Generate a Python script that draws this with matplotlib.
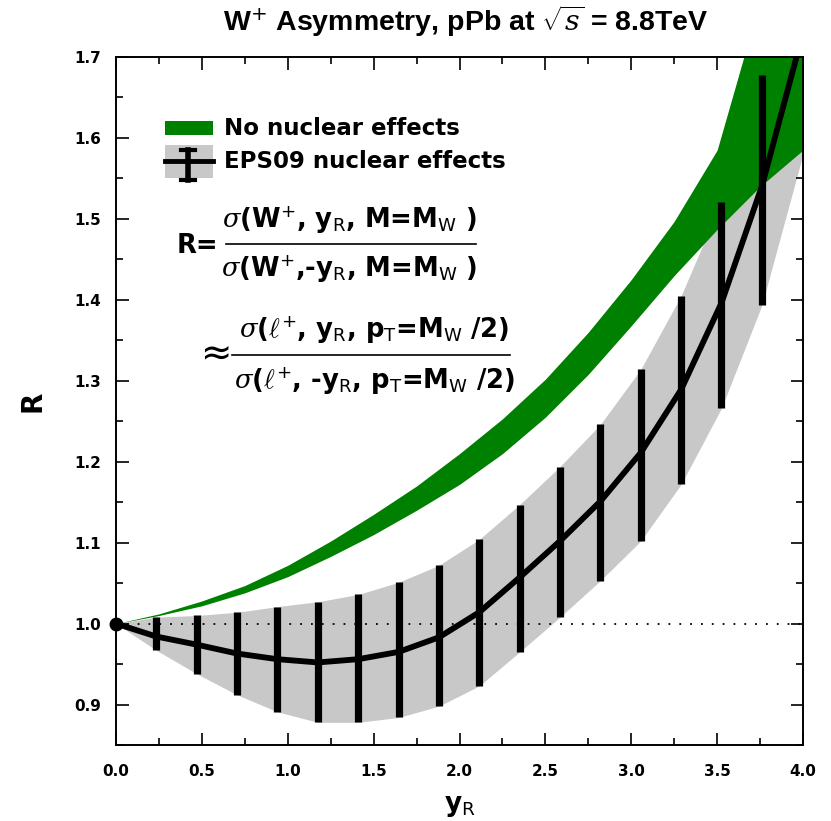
import matplotlib
matplotlib.use("Agg")
import matplotlib.pyplot as plt
from matplotlib.patches import Rectangle
from matplotlib.lines import Line2D
import numpy as np

plt.rcParams['font.family'] = ['DejaVu Sans']
plt.rcParams['mathtext.fontset'] = 'custom'
plt.rcParams['mathtext.rm'] = 'DejaVu Sans'
plt.rcParams['mathtext.bf'] = 'DejaVu Sans:bold'
plt.rcParams['mathtext.it'] = 'DejaVu Serif:italic'

# ---- data ----
bar_x = [0.235, 0.47, 0.705, 0.94, 1.175, 1.41, 1.645, 1.88, 2.115, 2.35,
         2.585, 2.82, 3.055, 3.29, 3.525, 3.76]
eps_center = [0.984, 0.974, 0.963, 0.956, 0.952, 0.956, 0.965, 0.983, 1.014, 1.057,
              1.102, 1.151, 1.211, 1.289, 1.396, 1.540]
eps_hi = [1.008, 1.010, 1.014, 1.021, 1.027, 1.036, 1.051, 1.072, 1.104, 1.147,
          1.194, 1.246, 1.314, 1.405, 1.521, 1.678]
eps_lo = [0.967, 0.938, 0.912, 0.891, 0.878, 0.878, 0.884, 0.898, 0.923, 0.965,
          1.008, 1.053, 1.102, 1.172, 1.266, 1.393]
curve_x = [0.0] + bar_x + [4.0]
curve_y = [1.0] + eps_center + [1.73]
band_hi = [1.0] + eps_hi + [1.86]
band_lo = [1.0] + eps_lo + [1.58]

green_x = [0.0, 0.25, 0.5, 0.75, 1.0, 1.25, 1.5, 1.75, 2.0, 2.25, 2.5, 2.75,
           3.0, 3.25, 3.5, 3.75, 4.0]
green_hi = [1.000, 1.012, 1.028, 1.047, 1.072, 1.102, 1.135, 1.170, 1.210, 1.253,
            1.302, 1.360, 1.425, 1.497, 1.585, 1.770, 1.98]
green_lo = [1.000, 1.010, 1.022, 1.038, 1.058, 1.083, 1.110, 1.140, 1.172, 1.210,
            1.255, 1.308, 1.368, 1.430, 1.487, 1.540, 1.585]

xticks = [0.0, 0.5, 1.0, 1.5, 2.0, 2.5, 3.0, 3.5, 4.0]
yticks = [0.9, 1.0, 1.1, 1.2, 1.3, 1.4, 1.5, 1.6, 1.7]

GREEN = '#008000'
GRAY = '#c8c8c8'

fig = plt.figure(figsize=(8.31, 8.21), dpi=100)
ax = fig.add_axes([116/831, 1-745/821, 687/831, 688/821])

ax.fill_between(curve_x, band_lo, band_hi, color=GRAY, lw=0, zorder=1)
ax.fill_between(green_x, green_lo, green_hi, color=GREEN, lw=0, zorder=2)
ax.plot([0, 4], [1.0, 1.0], color='k', lw=1.3, ls=(0, (1, 5)), zorder=3)
ax.plot(curve_x, curve_y, color='k', lw=4.2, zorder=4, solid_capstyle='round')
yc = np.array(eps_center)
ax.errorbar(bar_x, eps_center, yerr=[yc - np.array(eps_lo), np.array(eps_hi) - yc],
            fmt='none', ecolor='k', elinewidth=5.2, capsize=0, zorder=5)
ax.plot([0.0], [1.0], 'o', color='k', ms=9, clip_on=False, zorder=6)

ax.set_xlim(0, 4)
ax.set_ylim(0.85, 1.7)
ax.set_xticks(xticks)
ax.set_xticklabels([f'{v:.1f}' for v in xticks])
ax.set_yticks(yticks)
ax.set_yticklabels([f'{v:.1f}' for v in yticks])
ax.set_xticks(np.arange(0.25, 4.0, 0.5), minor=True)
ax.set_yticks(np.arange(0.85, 1.70, 0.1), minor=True)
ax.tick_params(which='both', direction='in', top=True, right=True, width=1.2)
ax.tick_params(which='major', length=9)
ax.tick_params(axis='x', which='major', pad=14)
ax.tick_params(axis='y', which='major', pad=11)
ax.tick_params(which='minor', length=5)
for lab in ax.get_xticklabels() + ax.get_yticklabels():
    lab.set_fontweight('bold')
    lab.set_fontsize(11)
for sp in ax.spines.values():
    sp.set_linewidth(1.4)

ax.set_ylabel('R', fontsize=20, fontweight='bold', labelpad=20)
ax.set_xlabel(r'y$_\mathrm{R}$', fontsize=19, fontweight='bold', labelpad=10)
fig.text(466/831, 1 - 21/821,
         r'W$^{+}$ Asymmetry, pPb at $\sqrt{s}$ = 8.8TeV',
         ha='center', va='center', fontsize=20.5, fontweight='bold',
         fontfamily='Liberation Sans')

# legend
T = ax.transAxes
def axc(px, py):
    return ((px - 116) / 687, (745 - py) / 688)

x0, y0 = axc(165, 135)
ax.add_patch(Rectangle((x0, y0), 48/687, 14/688, transform=T, color=GREEN, lw=0, zorder=7))
x0, y0 = axc(165, 178)
ax.add_patch(Rectangle((x0, y0), 48/687, 33/688, transform=T, color=GRAY, lw=0, zorder=7))
xa, ya = axc(165, 161)
xb_, _ = axc(213, 161)
ax.add_line(Line2D([xa, xb_], [ya, ya], transform=T, color='k', lw=3.5, zorder=8))
xm, yt = axc(188, 150)
_, yb = axc(188, 180)
ax.add_line(Line2D([xm, xm], [yb, yt], transform=T, color='k', lw=4, zorder=8))
cw = 7/687
ax.add_line(Line2D([xm-cw, xm+cw], [yt, yt], transform=T, color='k', lw=3, zorder=8))
ax.add_line(Line2D([xm-cw, xm+cw], [yb, yb], transform=T, color='k', lw=3, zorder=8))

lx, ly = axc(224, 128)
ax.text(lx, ly, 'No nuclear effects', transform=T, fontsize=16.5, fontweight='bold',
        va='center', ha='left', zorder=8)
lx, ly = axc(224, 161)
ax.text(lx, ly, 'EPS09 nuclear effects', transform=T, fontsize=16.5, fontweight='bold',
        va='center', ha='left', zorder=8)

# formula
fs = 18.6
px, py = axc(177, 246)
ax.text(px, py, 'R=', transform=T, fontsize=fs, fontweight='bold', ha='left', va='center')
px, py = axc(349, 220)
ax.text(px, py, r'$\sigma$(W$^{+}$, y$_\mathrm{R}$, M=M$_\mathrm{W}$ )', transform=T,
        fontsize=fs, fontweight='bold', ha='center', va='center')
xa, ya = axc(226, 244)
xb_, _ = axc(476, 244)
ax.add_line(Line2D([xa, xb_], [ya, ya], transform=T, color='k', lw=1.2))
px, py = axc(349, 269)
ax.text(px, py, r'$\sigma$(W$^{+}$,-y$_\mathrm{R}$, M=M$_\mathrm{W}$ )', transform=T,
        fontsize=fs, fontweight='bold', ha='center', va='center')

px, py = axc(211, 353)
ax.text(px, py, r'$\approx$', transform=T, fontsize=27, ha='center', va='center')
px, py = axc(374, 330)
ax.text(px, py, r'$\sigma$($\ell^{+}$, y$_\mathrm{R}$, p$_\mathrm{T}$=M$_\mathrm{W}$ /2)', transform=T,
        fontsize=fs, fontweight='bold', ha='center', va='center')
xa, ya = axc(232, 355)
xb_, _ = axc(510, 355)
ax.add_line(Line2D([xa, xb_], [ya, ya], transform=T, color='k', lw=1.2))
px, py = axc(374, 381)
ax.text(px, py, r'$\sigma$($\ell^{+}$, -y$_\mathrm{R}$, p$_\mathrm{T}$=M$_\mathrm{W}$ /2)', transform=T,
        fontsize=fs, fontweight='bold', ha='center', va='center')

fig.savefig('out.png', dpi=100)
